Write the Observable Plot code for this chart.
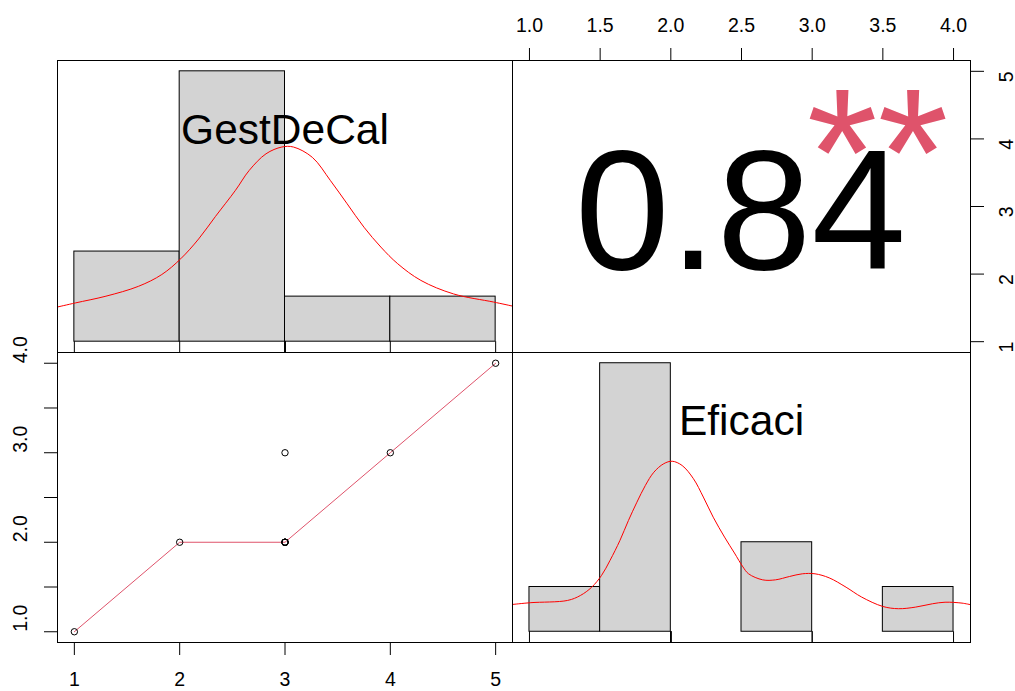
<!DOCTYPE html>
<html>
<head>
<meta charset="utf-8">
<script src="https://cdn.jsdelivr.net/npm/d3@7"></script>
<script src="https://cdn.jsdelivr.net/npm/@observablehq/plot@0.6"></script>
<style>
  html, body { margin: 0; padding: 0; background: #ffffff; }
  #chart { position: relative; width: 1015px; height: 691px; overflow: hidden; background: #ffffff; }
  #chart svg { position: absolute; }
</style>
</head>
<body>
<div id="chart"></div>
<script>
// ---------------- data ----------------
const varNames = ["GestDeCal", "Eficaci"];
const gestValues = [1, 2, 3, 3, 3, 3, 3, 3, 4, 5];
const efiValues  = [1, 2, 2, 2, 2, 2, 2, 3, 3, 4];

const gestBreaks  = [1, 2, 3, 4, 5];
const gestDensity = [0.2, 0.6, 0.1, 0.1];
const efiBreaks   = [1, 1.5, 2, 2.5, 3, 3.5, 4];
const efiDensity  = [0.2, 1.2, 0, 0.4, 0, 0.2];

const gestDensX = [0.84, 1.01, 1.30, 1.61, 1.83, 2.01, 2.18, 2.34, 2.53, 2.66, 2.82, 2.97, 3.08, 3.26, 3.43, 3.59, 3.75, 3.91, 4.07, 4.29, 4.60, 4.98, 5.16];
const gestDensY = [0.077, 0.086, 0.101, 0.123, 0.149, 0.184, 0.228, 0.278, 0.336, 0.380, 0.417, 0.432, 0.432, 0.409, 0.358, 0.306, 0.254, 0.210, 0.173, 0.136, 0.106, 0.088, 0.079];

const efiDensX = [0.88, 1.01, 1.27, 1.36, 1.44, 1.51, 1.57, 1.64, 1.70, 1.76, 1.82, 1.88, 1.95, 2.01, 2.08, 2.16, 2.23, 2.30, 2.38, 2.45, 2.51, 2.55, 2.65, 2.74, 2.84, 2.93, 3.02, 3.12, 3.24, 3.35, 3.50, 3.61, 3.73, 3.85, 3.94, 4.06, 4.12];
const efiDensY = [0.122, 0.130, 0.140, 0.162, 0.199, 0.252, 0.319, 0.408, 0.497, 0.579, 0.654, 0.713, 0.751, 0.762, 0.743, 0.684, 0.602, 0.512, 0.423, 0.352, 0.290, 0.259, 0.232, 0.232, 0.247, 0.259, 0.259, 0.241, 0.199, 0.155, 0.113, 0.103, 0.110, 0.125, 0.132, 0.128, 0.121];

const smoothX = [1, 2, 3, 4, 5];
const smoothY = [1, 2, 2, 3, 4];

const corrLabel = "0.84";
const signifLabel = "**";

const topTicks    = [1.0, 1.5, 2.0, 2.5, 3.0, 3.5, 4.0];
const rightTicks  = [1, 2, 3, 4, 5];
const bottomTicks = [1, 2, 3, 4, 5];
const leftTicks   = [1.0, 1.5, 2.0, 2.5, 3.0, 3.5, 4.0];
const leftLabels  = [1.0, 2.0, 3.0, 4.0];

// ---------------- layout ----------------
const W = 1015, H = 691;
const L = 57, M = 512, R = 970, T = 60, MID = 352, B = 642;
const FONT = '"Liberation Sans", Arial, Helvetica, sans-serif';
const TICK_FS = 19.5;
const RED2 = "#DF536B";
const chart = document.getElementById("chart");

function pad(lo, hi) { const p = (hi - lo) * 0.04; return [lo - p, hi + p]; }
function place(svg, left, top) { svg.style.left = left + "px"; svg.style.top = top + "px"; chart.append(svg); }
const baseStyle = { background: "transparent", overflow: "visible", fontFamily: FONT, color: "black", maxWidth: "none" };

const gestBins = gestDensity.map((d, i) => ({ x1: gestBreaks[i], x2: gestBreaks[i + 1], y: d }));
const efiBins  = efiDensity.map((d, i) => ({ x1: efiBreaks[i], x2: efiBreaks[i + 1], y: d }));
const gestDens = gestDensX.map((x, i) => ({ x, y: gestDensY[i] }));
const efiDens  = efiDensX.map((x, i) => ({ x, y: efiDensY[i] }));
const smooth   = smoothX.map((x, i) => ({ x, y: smoothY[i] }));
const pairs    = gestValues.map((g, i) => ({ x: g, y: efiValues[i] }));

const gestYDom = pad(0, d3.max(gestDensity));
const efiYDom  = pad(0, d3.max(efiDensity));

// ---------------- top-left: histogram of GestDeCal ----------------
place(Plot.plot({
  width: M - L, height: MID - T, margin: 0,
  style: baseStyle,
  x: { domain: pad(1, 5), axis: null },
  y: { domain: gestYDom, axis: null },
  marks: [
    Plot.rect(gestBins, { x1: "x1", x2: "x2", y1: 0, y2: "y", fill: "#D3D3D3", stroke: "black", strokeWidth: 1 }),
    Plot.ruleX(gestValues, { x: d => d, y1: gestYDom[0], y2: 0, stroke: "black", strokeWidth: 1 }),
    Plot.line(gestDens, { x: "x", y: "y", stroke: "red", strokeWidth: 1, curve: "catmull-rom", clip: true }),
    Plot.frame({ stroke: "black", strokeWidth: 1 }),
    Plot.text([varNames[0]], { text: d => d, frameAnchor: "top", dy: 53, fontSize: 42.5, fill: "black" })
  ]
}), L, T);

// ---------------- top-right: correlation ----------------
place(Plot.plot({
  width: W - M, height: MID, marginTop: T, marginLeft: 0, marginBottom: 0, marginRight: W - R,
  style: baseStyle,
  x: { domain: pad(1, 4), axis: null },
  y: { domain: pad(1, 5), axis: null },
  marks: [
    Plot.frame({ stroke: "black", strokeWidth: 1 }),
    Plot.axisX({ anchor: "top", ticks: topTicks, tickFormat: d3.format(".1f"), tickSize: 13, tickPadding: 16, fontSize: TICK_FS, label: null }),
    Plot.axisY({ anchor: "right", ticks: rightTicks, tickFormat: () => "", tickSize: 13, label: null }),
    Plot.text(rightTicks, { y: d => d, text: d => String(d), frameAnchor: "right", dx: 36, rotate: -90, fontSize: TICK_FS, fill: "black" }),
    Plot.text([corrLabel], { text: d => d, frameAnchor: "middle", dx: -1, dy: 8, fontSize: 170, fill: "black" }),
    Plot.text([signifLabel], { text: d => d, frameAnchor: "middle", dx: 136, dy: -50, fontSize: 182, fill: RED2 })
  ]
}), M, 0);

// ---------------- bottom-left: scatter ----------------
place(Plot.plot({
  width: M, height: H - MID, marginLeft: L, marginTop: 0, marginRight: 0, marginBottom: H - B,
  style: baseStyle,
  x: { domain: pad(1, 5), axis: null },
  y: { domain: pad(1, 4), axis: null },
  marks: [
    Plot.frame({ stroke: "black", strokeWidth: 1 }),
    Plot.axisX({ anchor: "bottom", ticks: bottomTicks, tickFormat: d => String(d), tickSize: 13, tickPadding: 17, fontSize: TICK_FS, label: null }),
    Plot.axisY({ anchor: "left", ticks: leftTicks, tickFormat: () => "", tickSize: 13, label: null }),
    Plot.text(leftLabels, { y: d => d, text: d3.format(".1f"), frameAnchor: "left", dx: -37, rotate: -90, fontSize: TICK_FS, fill: "black" }),
    Plot.line(smooth, { x: "x", y: "y", stroke: RED2, strokeWidth: 1 }),
    Plot.dot(pairs, { x: "x", y: "y", r: 3.2, stroke: "black", strokeWidth: 1, fill: "none" })
  ]
}), 0, MID);

// ---------------- bottom-right: histogram of Eficaci ----------------
place(Plot.plot({
  width: R - M, height: B - MID, margin: 0,
  style: baseStyle,
  x: { domain: pad(1, 4), axis: null },
  y: { domain: efiYDom, axis: null },
  marks: [
    Plot.rect(efiBins, { x1: "x1", x2: "x2", y1: 0, y2: "y", fill: "#D3D3D3", stroke: "black", strokeWidth: 1 }),
    Plot.ruleX(efiValues, { x: d => d, y1: efiYDom[0], y2: 0, stroke: "black", strokeWidth: 1 }),
    Plot.line(efiDens, { x: "x", y: "y", stroke: "red", strokeWidth: 1, curve: "catmull-rom", clip: true }),
    Plot.frame({ stroke: "black", strokeWidth: 1 }),
    Plot.text([varNames[1]], { text: d => d, frameAnchor: "top", dy: 52, fontSize: 42.5, fill: "black" })
  ]
}), M, MID);
</script>
</body>
</html>
